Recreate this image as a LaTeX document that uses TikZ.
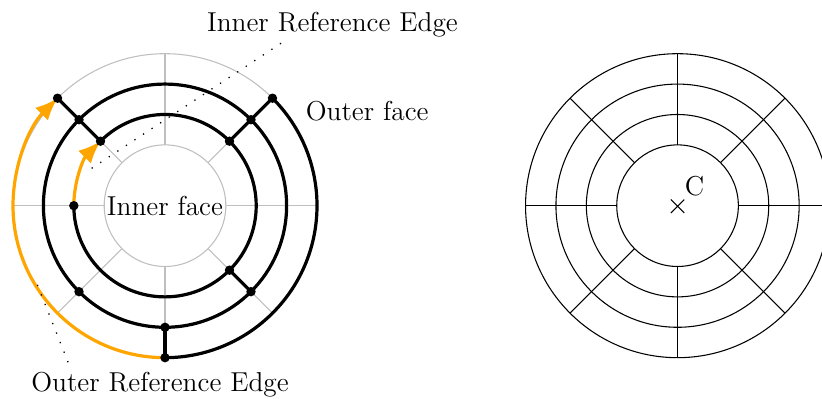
\documentclass[tikz,border=0pt]{standalone}
\usetikzlibrary{arrows.meta}
\definecolor{refor}{RGB}{255,165,0}
\newcommand{\lblfont}{\fontsize{12.8}{15}\selectfont}
\begin{document}
\begin{tikzpicture}[
  guide/.style={lightgray, line width=0.5pt},
  edge/.style={black, line width=1.5pt},
  refedge/.style={refor, line width=1.5pt, -{Latex[length=10.5pt,width=8.5pt]}},
  vtx/.style={circle, fill=black, inner sep=0pt, minimum size=4.4pt},
  lbl/.style={font=\lblfont, anchor=base, inner sep=0pt},
  pointer/.style={dash pattern=on 0.6pt off 4.2pt, line width=0.6pt},
  thinline/.style={black, line width=0.5pt},
]
\useasboundingbox (-2.714,-3.179) rectangle (10.806,3.383);
% ---------- left figure ----------
\draw[guide] (0,0) circle[radius=1] (0,0) circle[radius=2.5];
\foreach \a in {0,45,...,315} \draw[guide] (\a:1) -- (\a:2.5);
% vertex positions
\coordinate (o135) at (135:2.5);
\coordinate (m135) at (135:2);
\coordinate (i135) at (135:1.5);
\coordinate (o45) at (45:2.5);
\coordinate (m45) at (45:2);
\coordinate (i45) at (45:1.5);
\coordinate (i180) at (180:1.5);
\coordinate (im45) at (-45:1.5);
\coordinate (mm45) at (-45:2);
\coordinate (m225) at (225:2);
\coordinate (m270) at (270:2);
\coordinate (o270) at (270:2.5);
% black edges
\draw[edge] (0,0) circle[radius=2];
\draw[edge] (i135) arc[start angle=135, end angle=-180, radius=1.5];
\draw[edge] (o45) arc[start angle=45, end angle=-90, radius=2.5];
\draw[edge] (o135) -- (m135) -- (i135);
\draw[edge] (o45) -- (m45) -- (i45);
\draw[edge] (mm45) -- (im45);
\draw[edge] (m270) -- (o270);
% reference edges
\draw[refedge] (i180) arc[start angle=180, end angle=135, radius=1.5];
\draw[refedge] (o270) arc[start angle=270, end angle=135, radius=2.5];
% vertices
\foreach \v in {o135,m135,i135,o45,m45,i45,i180,im45,mm45,m225,m270,o270}
  \node[vtx] (d\v) at (\v) {};
% labels
\node[font=\lblfont, inner sep=0pt] (innerface) at (0,0) {Inner face};
\node[lbl] (outerface) at (3.326,1.393) {Outer face};
\node[lbl] (ire) at (2.755,2.873) {Inner Reference Edge};
\node[lbl] (ore) at (-0.082,-3.064) {Outer Reference Edge};
\coordinate (irp) at (153:1.354);
\coordinate (iret) at (1.946,2.697);
\coordinate (orp) at (211.8:2.47);
\coordinate (oret) at (-1.5625,-2.653);
\draw[pointer] (irp) -- (iret);
\draw[pointer] (orp) -- (oret);
% ---------- right figure ----------
\begin{scope}[shift={(8.43,0)}]
  \foreach \r in {1,1.5,2,2.5} \draw[thinline] (0,0) circle[radius=\r];
  \foreach \a in {0,45,...,315} \draw[thinline] (\a:1) -- (\a:2.5);
  \coordinate (cc) at (0,-0.01);
  \draw[thinline] ([shift={(-0.11,-0.11)}]cc) -- ([shift={(0.11,0.11)}]cc)
                  ([shift={(-0.11,0.11)}]cc) -- ([shift={(0.11,-0.11)}]cc);
  \node[lbl] (clabel) at (0.281,0.168) {C};
\end{scope}
\end{tikzpicture}
\end{document}
